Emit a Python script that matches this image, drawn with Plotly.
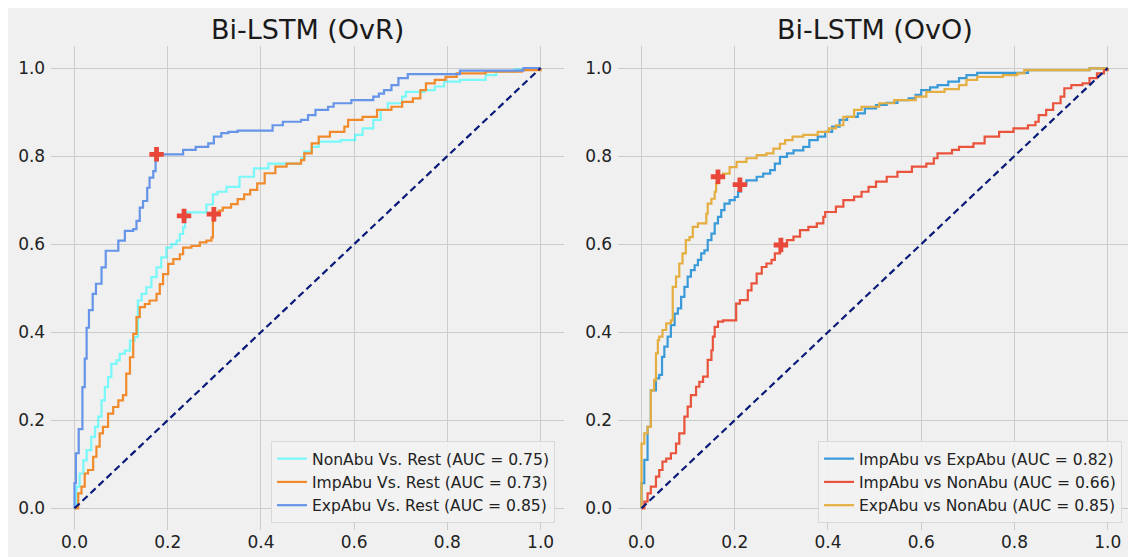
import plotly.graph_objects as go

# The page body adds an 8px offset, so the figure is drawn 8px smaller.
OFF = 8
W, H = 1136 - OFF, 557 - OFF

# ---------------- data ----------------
titles = ["Bi-LSTM (OvR)", "Bi-LSTM (OvO)"]
tick_vals = [0.0, 0.2, 0.4, 0.6, 0.8, 1.0]
tick_text = ["0.0", "0.2", "0.4", "0.6", "0.8", "1.0"]

ovr_names = ["NonAbu Vs. Rest (AUC = 0.75)", "ImpAbu Vs. Rest (AUC = 0.73)", "ExpAbu Vs. Rest (AUC = 0.85)"]
ovo_names = ["ImpAbu vs ExpAbu (AUC = 0.82)", "ImpAbu vs NonAbu (AUC = 0.66)", "ExpAbu vs NonAbu (AUC = 0.85)"]

nonabu_fpr = [0, 0.004, 0.011, 0.019, 0.026, 0.036, 0.044, 0.051, 0.058, 0.065, 0.072, 0.079, 0.09, 0.097, 0.108, 0.119, 0.129, 0.136, 0.144, 0.154, 0.165, 0.176, 0.186, 0.197, 0.208, 0.219, 0.226, 0.233, 0.237, 0.239, 0.283, 0.297, 0.307, 0.326, 0.354, 0.385, 0.416, 0.486, 0.493, 0.509, 0.524, 0.571, 0.602, 0.618, 0.641, 0.657, 0.672, 0.703, 0.711, 0.75, 0.773, 0.793, 0.827, 0.882, 0.905, 0.944, 1.0]
nonabu_tpr = [0, 0.049, 0.079, 0.109, 0.132, 0.162, 0.185, 0.208, 0.245, 0.275, 0.298, 0.328, 0.336, 0.351, 0.358, 0.381, 0.389, 0.472, 0.487, 0.502, 0.525, 0.547, 0.57, 0.592, 0.6, 0.608, 0.623, 0.638, 0.657, 0.672, 0.69, 0.713, 0.719, 0.73, 0.753, 0.772, 0.783, 0.795, 0.81, 0.821, 0.833, 0.836, 0.848, 0.863, 0.882, 0.905, 0.92, 0.935, 0.946, 0.95, 0.958, 0.969, 0.973, 0.984, 0.992, 0.997, 1.0]

impabu_fpr = [0, 0.008, 0.015, 0.022, 0.029, 0.04, 0.047, 0.054, 0.061, 0.072, 0.083, 0.094, 0.104, 0.111, 0.119, 0.126, 0.133, 0.14, 0.151, 0.161, 0.176, 0.183, 0.19, 0.201, 0.212, 0.226, 0.233, 0.251, 0.269, 0.283, 0.294, 0.297, 0.299, 0.31, 0.318, 0.336, 0.35, 0.364, 0.377, 0.392, 0.408, 0.431, 0.455, 0.486, 0.493, 0.509, 0.524, 0.548, 0.579, 0.587, 0.618, 0.649, 0.68, 0.703, 0.726, 0.742, 0.754, 0.773, 0.796, 0.82, 0.882, 0.96, 1.0]
impabu_tpr = [0, 0.034, 0.049, 0.079, 0.087, 0.117, 0.14, 0.17, 0.185, 0.215, 0.23, 0.245, 0.257, 0.306, 0.343, 0.396, 0.434, 0.457, 0.464, 0.472, 0.487, 0.509, 0.532, 0.555, 0.566, 0.577, 0.592, 0.596, 0.604, 0.608, 0.615, 0.653, 0.672, 0.676, 0.683, 0.691, 0.702, 0.713, 0.723, 0.738, 0.761, 0.776, 0.783, 0.791, 0.806, 0.829, 0.844, 0.855, 0.867, 0.882, 0.889, 0.905, 0.912, 0.923, 0.931, 0.95, 0.965, 0.973, 0.98, 0.988, 0.992, 0.995, 1.0]

expabu_fpr = [0, 0.0, 0.003, 0.009, 0.017, 0.022, 0.026, 0.031, 0.039, 0.046, 0.058, 0.067, 0.094, 0.108, 0.126, 0.133, 0.14, 0.147, 0.156, 0.161, 0.169, 0.174, 0.176, 0.233, 0.26, 0.287, 0.299, 0.315, 0.33, 0.35, 0.425, 0.447, 0.486, 0.501, 0.517, 0.544, 0.556, 0.594, 0.641, 0.653, 0.664, 0.68, 0.695, 0.715, 0.827, 0.963, 1.0]
expabu_tpr = [0, 0.057, 0.125, 0.18, 0.275, 0.34, 0.41, 0.45, 0.487, 0.51, 0.547, 0.585, 0.608, 0.63, 0.634, 0.653, 0.683, 0.698, 0.728, 0.751, 0.766, 0.789, 0.804, 0.814, 0.821, 0.829, 0.844, 0.852, 0.855, 0.858, 0.87, 0.878, 0.882, 0.893, 0.905, 0.912, 0.92, 0.927, 0.935, 0.942, 0.95, 0.961, 0.977, 0.986, 0.994, 1.0, 1.0]

ie_fpr = [0, 0.0, 0.006, 0.013, 0.02, 0.031, 0.038, 0.044, 0.049, 0.056, 0.063, 0.071, 0.078, 0.085, 0.092, 0.099, 0.106, 0.114, 0.121, 0.128, 0.135, 0.142, 0.15, 0.157, 0.164, 0.171, 0.178, 0.189, 0.2, 0.207, 0.213, 0.225, 0.247, 0.261, 0.276, 0.286, 0.297, 0.312, 0.326, 0.347, 0.36, 0.378, 0.394, 0.409, 0.425, 0.441, 0.464, 0.479, 0.503, 0.526, 0.549, 0.573, 0.588, 0.6, 0.619, 0.635, 0.658, 0.681, 0.697, 0.72, 0.829, 0.961, 1.0]
ie_tpr = [0, 0.057, 0.11, 0.185, 0.268, 0.295, 0.303, 0.344, 0.367, 0.39, 0.416, 0.442, 0.454, 0.48, 0.503, 0.526, 0.541, 0.552, 0.564, 0.579, 0.586, 0.609, 0.624, 0.647, 0.662, 0.677, 0.692, 0.7, 0.707, 0.719, 0.735, 0.745, 0.753, 0.76, 0.768, 0.783, 0.798, 0.806, 0.813, 0.821, 0.836, 0.844, 0.855, 0.867, 0.882, 0.889, 0.897, 0.908, 0.916, 0.921, 0.927, 0.931, 0.939, 0.95, 0.956, 0.961, 0.969, 0.977, 0.984, 0.989, 0.995, 0.999, 1.0]

in_fpr = [0, 0.006, 0.013, 0.02, 0.031, 0.038, 0.045, 0.053, 0.063, 0.074, 0.081, 0.092, 0.099, 0.106, 0.117, 0.124, 0.132, 0.142, 0.15, 0.153, 0.157, 0.164, 0.175, 0.203, 0.211, 0.228, 0.236, 0.247, 0.258, 0.268, 0.279, 0.286, 0.297, 0.301, 0.312, 0.326, 0.34, 0.358, 0.376, 0.39, 0.394, 0.417, 0.433, 0.456, 0.472, 0.487, 0.503, 0.526, 0.549, 0.58, 0.611, 0.627, 0.635, 0.666, 0.681, 0.712, 0.736, 0.767, 0.798, 0.829, 0.845, 0.852, 0.868, 0.883, 0.899, 0.907, 0.922, 0.946, 0.961, 0.977, 0.992, 1.0]
in_tpr = [0, 0.015, 0.034, 0.049, 0.072, 0.087, 0.106, 0.113, 0.125, 0.147, 0.17, 0.208, 0.231, 0.257, 0.276, 0.287, 0.299, 0.337, 0.359, 0.39, 0.412, 0.424, 0.427, 0.465, 0.473, 0.495, 0.511, 0.533, 0.548, 0.556, 0.564, 0.579, 0.594, 0.6, 0.609, 0.617, 0.632, 0.639, 0.647, 0.662, 0.673, 0.685, 0.7, 0.708, 0.719, 0.73, 0.742, 0.753, 0.764, 0.776, 0.783, 0.795, 0.806, 0.814, 0.821, 0.829, 0.844, 0.855, 0.863, 0.87, 0.878, 0.893, 0.905, 0.92, 0.935, 0.954, 0.961, 0.965, 0.977, 0.988, 0.995, 1.0]

en_fpr = [0, 0.0, 0.006, 0.013, 0.02, 0.027, 0.031, 0.035, 0.038, 0.045, 0.053, 0.063, 0.067, 0.074, 0.081, 0.088, 0.095, 0.103, 0.11, 0.121, 0.139, 0.142, 0.15, 0.157, 0.16, 0.164, 0.175, 0.189, 0.204, 0.225, 0.247, 0.268, 0.283, 0.297, 0.308, 0.324, 0.347, 0.378, 0.402, 0.417, 0.433, 0.456, 0.472, 0.51, 0.542, 0.588, 0.611, 0.65, 0.681, 0.697, 0.72, 0.775, 0.806, 0.821, 0.961, 1.0]
en_tpr = [0, 0.147, 0.17, 0.185, 0.268, 0.291, 0.352, 0.382, 0.39, 0.405, 0.42, 0.427, 0.503, 0.526, 0.556, 0.579, 0.609, 0.616, 0.639, 0.647, 0.669, 0.692, 0.703, 0.719, 0.738, 0.753, 0.76, 0.775, 0.787, 0.795, 0.802, 0.806, 0.817, 0.828, 0.836, 0.844, 0.848, 0.855, 0.863, 0.87, 0.889, 0.905, 0.912, 0.92, 0.927, 0.935, 0.946, 0.952, 0.961, 0.973, 0.98, 0.984, 0.988, 0.995, 0.999, 1.0]

ovr_opt_x = [0.176, 0.235, 0.299]
ovr_opt_y = [0.804, 0.664, 0.668]
ovo_opt_x = [0.211, 0.299, 0.164]
ovo_opt_y = [0.735, 0.598, 0.753]

diag = [0.0, 1.0]

# ---------------- styling ----------------
BG = "#f0f0f0"
GRID = "#cbcbcb"
FONT = "DejaVu Sans"
ovr_colors = ["rgba(0,255,255,0.5)", "#f08a2c", "#6594e8"]
ovo_colors = ["#3a9ad9", "#e9533c", "#e4ae40"]
MARK = "#e8473a"

# convert reference page pixels to figure paper coordinates
def px_x(p):
    return (p - OFF) / W

def px_y(p):
    return 1 - (p - OFF) / H

fig = go.Figure()

panels = [
    (ovr_names, [(nonabu_fpr, nonabu_tpr), (impabu_fpr, impabu_tpr), (expabu_fpr, expabu_tpr)], ovr_colors, ovr_opt_x, ovr_opt_y, "x", "y", "legend"),
    (ovo_names, [(ie_fpr, ie_tpr), (in_fpr, in_tpr), (en_fpr, en_tpr)], ovo_colors, ovo_opt_x, ovo_opt_y, "x2", "y2", "legend2"),
]

for names, curves, colors, ox, oy, xa, ya, lg in panels:
    for name, (fx, ty), col in zip(names, curves, colors):
        fig.add_trace(go.Scatter(x=fx, y=ty, mode="lines", name=name,
                                 line=dict(color=col, width=2.2, shape="hv"),
                                 xaxis=xa, yaxis=ya, legend=lg))
    fig.add_trace(go.Scatter(x=diag, y=diag, mode="lines", showlegend=False,
                             line=dict(color="#0a1a78", width=2.2, dash="7px,4px"),
                             xaxis=xa, yaxis=ya))
    fig.add_trace(go.Scatter(x=ox, y=oy, mode="markers", showlegend=False,
                             marker=dict(symbol="cross", size=12, color=MARK, line=dict(width=0)),
                             xaxis=xa, yaxis=ya))

# pixel geometry of the two panels (reference page pixels)
yd = [px_y(530.3), px_y(46.0)]
x1d = [px_x(51.2), px_x(563.9)]
x2d = [px_x(618.2), px_x(1131.0)]

axis_common = dict(range=[-0.05, 1.05], tickvals=tick_vals, ticktext=tick_text,
                   showgrid=True, gridcolor=GRID, gridwidth=1, zeroline=False,
                   showline=False, ticks="", tickfont=dict(family=FONT, size=17, color="#222222"))

legend_common = dict(xanchor="right", yanchor="bottom",
                     bgcolor="rgba(242,242,242,0.9)", bordercolor="#d9d9d9", borderwidth=1,
                     font=dict(family=FONT, size=15.6, color="#222222"), itemwidth=30,
                     tracegroupgap=0)

fig.update_layout(
    width=W, height=H, autosize=False,
    margin=dict(l=0, r=0, t=0, b=0, pad=0),
    paper_bgcolor=BG, plot_bgcolor=BG,
    font=dict(family=FONT, color="#222222"),
    xaxis=dict(domain=x1d, anchor="y", **axis_common),
    yaxis=dict(domain=yd, anchor="x", ticklabelstandoff=5, **axis_common),
    xaxis2=dict(domain=x2d, anchor="y2", **axis_common),
    yaxis2=dict(domain=yd, anchor="x2", ticklabelstandoff=5, **axis_common),
    legend=dict(x=px_x(555), y=px_y(523), **legend_common),
    legend2=dict(x=px_x(1122), y=px_y(523), **legend_common),
    annotations=[
        dict(text=titles[0], x=(x1d[0] + x1d[1]) / 2, y=px_y(29), xref="paper", yref="paper",
             showarrow=False, xanchor="center", yanchor="middle",
             font=dict(family=FONT, size=27, color="#1a1a1a")),
        dict(text=titles[1], x=(x2d[0] + x2d[1]) / 2, y=px_y(29), xref="paper", yref="paper",
             showarrow=False, xanchor="center", yanchor="middle",
             font=dict(family=FONT, size=27, color="#1a1a1a")),
    ],
)

fig.write_html("out.html")
